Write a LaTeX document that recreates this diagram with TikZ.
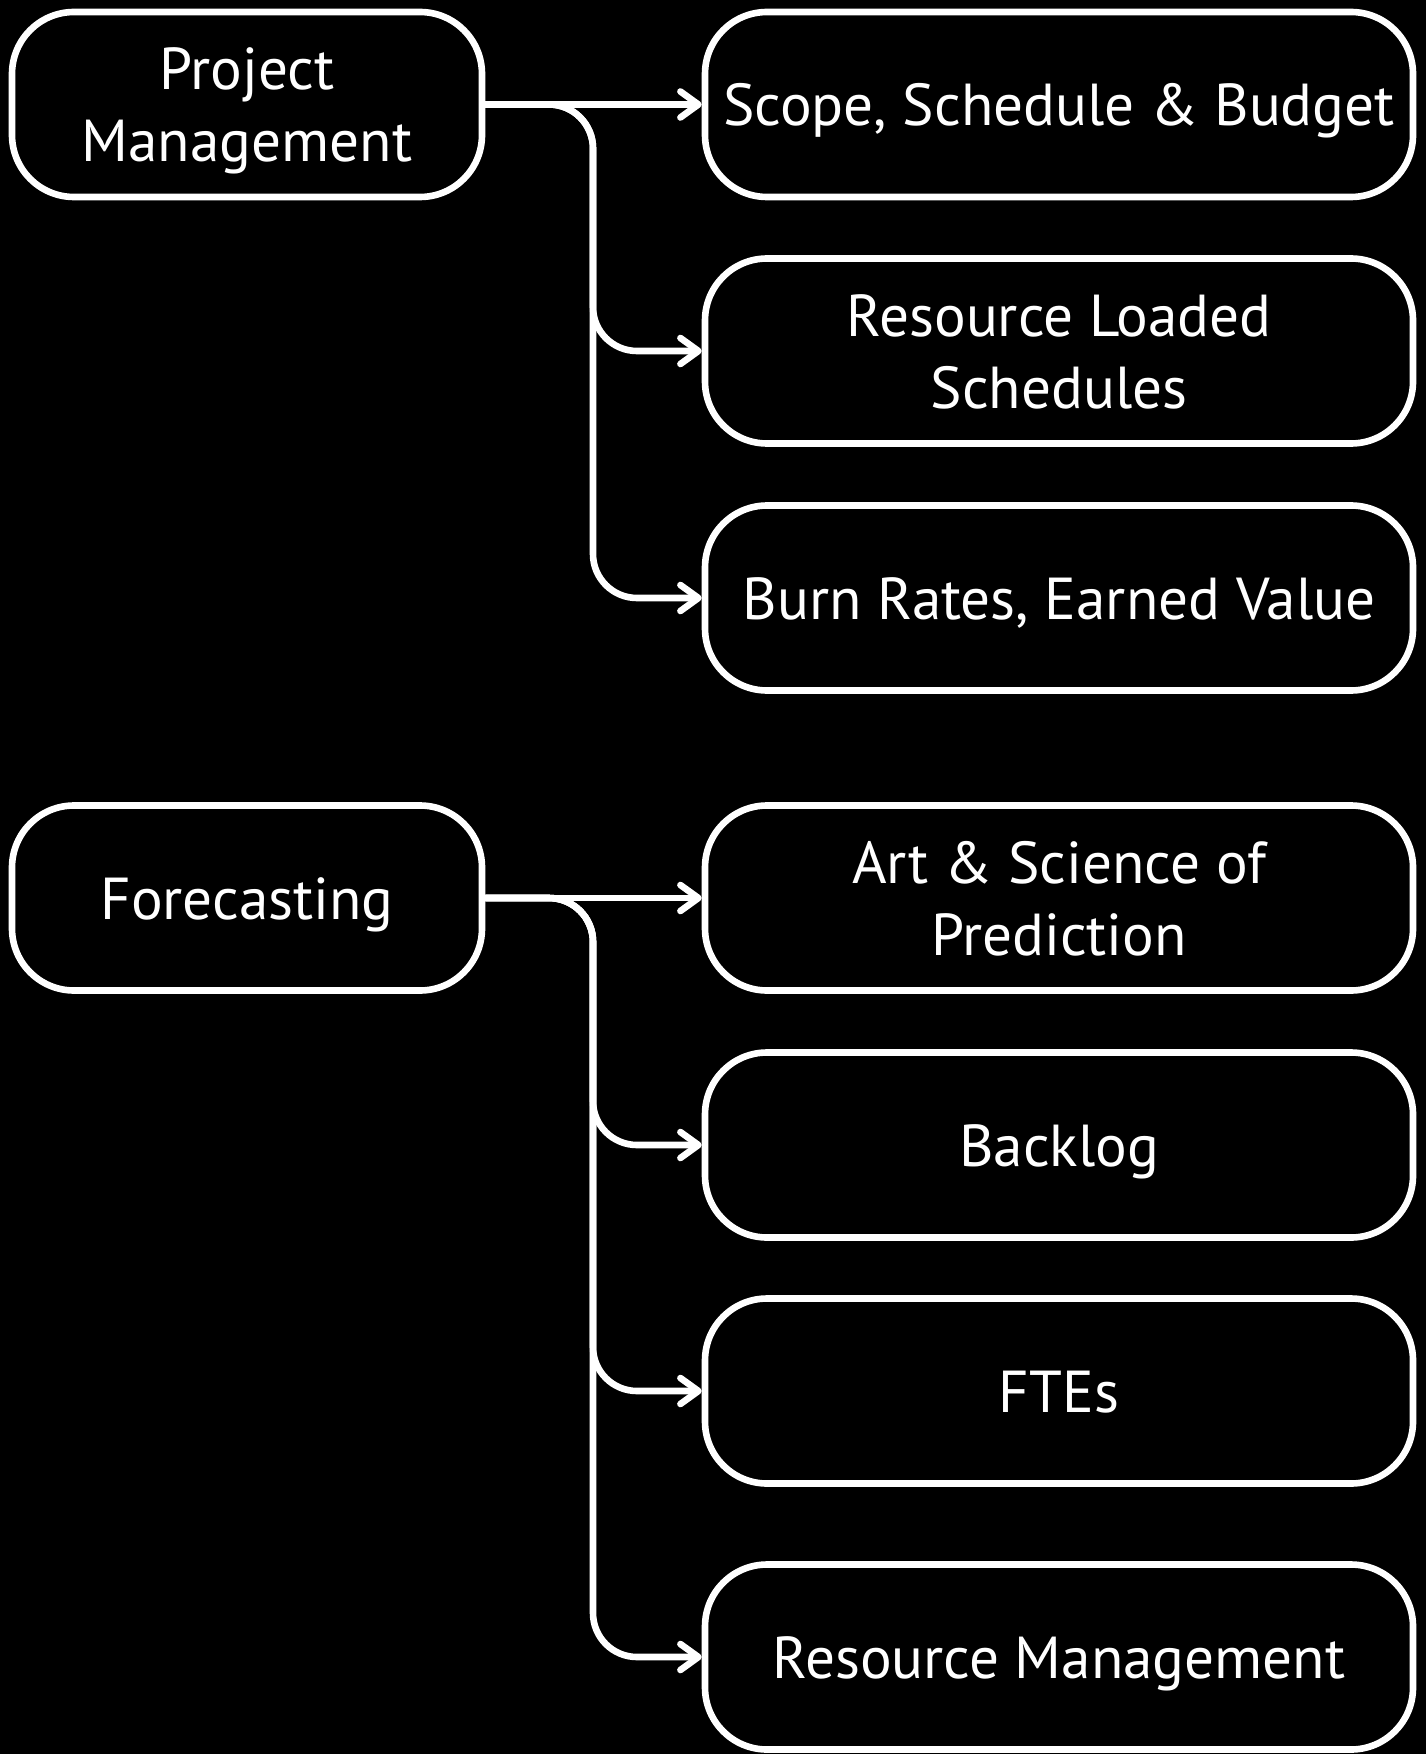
\documentclass[tikz,border=0pt]{standalone}
\usepackage{fontspec}
\setmainfont{PT Sans}
\usetikzlibrary{arrows.meta}
\newcommand{\boxtext}[1]{\raisebox{-3.5pt}[\height][\depth]{\begin{tabular}{@{}c@{}}#1\end{tabular}}}
\begin{document}
\begin{tikzpicture}[x=0.5pt,y=-0.5pt,
  box/.style={draw=white, line width=3.3pt, fill=black, text=white, rounded corners=31pt,
    align=center, font=\fontsize{29.6}{36}\selectfont, inner sep=0pt},
  leftbox/.style={box, minimum width=235pt, minimum height=92.5pt},
  rightbox/.style={box, minimum width=354pt, minimum height=92.5pt},
  conn/.style={draw=white, line width=3.3pt, rounded corners=22pt,
    -{Straight Barb[length=9pt,width=13pt,round]}},
]
\fill[black] (0,0) rectangle (1426,1754);
\useasboundingbox (0,0) rectangle (1426,1754);
% left nodes
\node[leftbox] (pm) at (247,104.5) {\boxtext{Project\\Management}};
\node[leftbox] (fc) at (247,898) {\boxtext{Forecasting}};
% right nodes
\node[rightbox] (n1) at (1059,104.5) {\boxtext{Scope, Schedule \& Budget}};
\node[rightbox] (n2) at (1059,351) {\boxtext{Resource Loaded\\Schedules}};
\node[rightbox] (n3) at (1059,598) {\boxtext{Burn Rates, Earned Value}};
\node[rightbox] (n4) at (1059,898) {\boxtext{Art \& Science of\\Prediction}};
\node[rightbox] (n5) at (1059,1145) {\boxtext{Backlog}};
\node[rightbox] (n6) at (1059,1391) {\boxtext{FTEs}};
\node[rightbox] (n7) at (1059,1657) {\boxtext{Resource Management}};
% trunk corners
\coordinate (pt) at (593,104.5);
\coordinate (ft) at (593,898);
% connectors
\draw[conn] (pm.east) -- (n1.west);
\draw[conn] (pm.east) -- (pt) |- (n2.west);
\draw[conn] (pm.east) -- (pt) |- (n3.west);
\draw[conn] (fc.east) -- (n4.west);
\draw[conn] (fc.east) -- (ft) |- (n5.west);
\draw[conn] (fc.east) -- (ft) |- (n6.west);
\draw[conn] (fc.east) -- (ft) |- (n7.west);
\end{tikzpicture}
\end{document}
